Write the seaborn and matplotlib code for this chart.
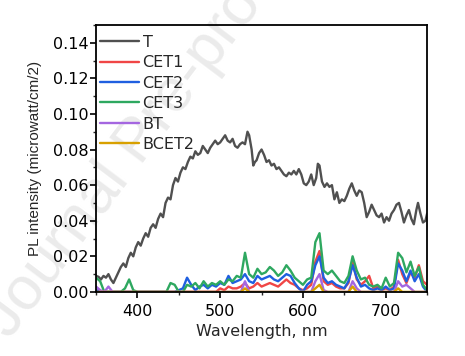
import numpy as np
import pandas as pd
import matplotlib
matplotlib.use('Agg')
import matplotlib.pyplot as plt
from matplotlib.ticker import MultipleLocator, FormatStrFormatter
import seaborn as sns

# T 曲线
t_wl = [350, 353, 356, 359, 362, 365, 368, 371, 374, 377, 380, 383, 386, 389, 392, 395, 398,
        401, 404, 407, 410, 413, 416, 419, 422, 425, 428, 431, 434, 437, 440, 443, 446, 449,
        452, 455, 458, 461, 464, 467, 470, 473, 476, 479, 482, 485, 488, 491, 494, 497, 500,
        503, 506, 509, 512, 515, 518, 521, 524, 527, 530, 533, 535, 538, 540, 542, 544, 547,
        550, 553, 556, 559, 562, 565, 568, 571, 574, 577, 580, 583, 586, 589, 592, 595, 598,
        601, 604, 607, 610, 613, 616, 618, 620, 623, 626, 629, 632, 635, 638, 641, 644, 647,
        650, 653, 656, 659, 662, 665, 668, 671, 674, 677, 680, 683, 686, 689, 692, 695, 698,
        701, 704, 707, 710, 713, 716, 719, 722, 725, 728, 731, 734, 737, 739, 742, 745, 748, 750]
t_val = [0.009, 0.0085, 0.007, 0.009, 0.008, 0.010, 0.007, 0.005, 0.008, 0.011, 0.014, 0.016,
         0.014, 0.019, 0.022, 0.020, 0.025, 0.028, 0.026, 0.030, 0.033, 0.031, 0.036, 0.038,
         0.036, 0.041, 0.044, 0.042, 0.050, 0.053, 0.052, 0.060, 0.064, 0.062, 0.067, 0.070,
         0.069, 0.073, 0.076, 0.075, 0.079, 0.077, 0.078, 0.082, 0.080, 0.078, 0.081, 0.083,
         0.085, 0.083, 0.084, 0.086, 0.088, 0.085, 0.084, 0.086, 0.082, 0.081, 0.083, 0.084,
         0.083, 0.090, 0.088, 0.080, 0.071, 0.073, 0.074, 0.078, 0.080, 0.077, 0.073, 0.074,
         0.071, 0.072, 0.069, 0.070, 0.068, 0.066, 0.065, 0.067, 0.066, 0.068, 0.066, 0.069,
         0.066, 0.061, 0.060, 0.062, 0.066, 0.060, 0.064, 0.072, 0.071, 0.062, 0.059, 0.061,
         0.059, 0.060, 0.052, 0.056, 0.050, 0.052, 0.051, 0.054, 0.058, 0.061, 0.057, 0.054,
         0.057, 0.056, 0.050, 0.042, 0.045, 0.049, 0.046, 0.043, 0.042, 0.044, 0.039, 0.042,
         0.040, 0.044, 0.046, 0.049, 0.050, 0.045, 0.039, 0.043, 0.046, 0.041, 0.038, 0.046,
         0.050, 0.044, 0.039, 0.040, 0.044]

# 其余样品，5 nm 间隔，每行 50 nm
wl = list(range(350, 751, 5))
cet1 = [0.001, 0, 0, 0, 0, 0, 0, 0, 0, 0,
        0, 0, 0, 0, 0, 0, 0, 0, 0, 0,
        0, 0, 0, 0, 0, 0, 0, 0, 0, 0,
        0.002, 0.001, 0.003, 0.002, 0.002, 0.003, 0.005, 0.002, 0.003, 0.005,
        0.003, 0.004, 0.005, 0.004, 0.003, 0.005, 0.007, 0.005, 0.004, 0.002,
        0.001, 0.002, 0.004, 0.017, 0.023, 0.006, 0.004, 0.005, 0.003, 0.002,
        0.002, 0.005, 0.017, 0.007, 0.004, 0.006, 0.009, 0.002, 0.003, 0.001,
        0.002, 0.001, 0.003, 0.018, 0.010, 0.005, 0.011, 0.008, 0.015, 0.006,
        0.004]
cet2 = [0.001, 0, 0, 0, 0, 0, 0, 0, 0, 0,
        0, 0, 0, 0, 0, 0, 0, 0, 0, 0,
        0.001, 0.002, 0.008, 0.004, 0.001, 0.003, 0.004, 0.002, 0.004, 0.003,
        0.005, 0.004, 0.009, 0.005, 0.006, 0.007, 0.010, 0.006, 0.005, 0.009,
        0.007, 0.008, 0.009, 0.007, 0.006, 0.008, 0.010, 0.009, 0.005, 0.002,
        0.000, 0.004, 0.006, 0.015, 0.020, 0.008, 0.005, 0.006, 0.004, 0.003,
        0.002, 0.006, 0.015, 0.008, 0.003, 0.004, 0.002, 0.001, 0.002, 0.001,
        0.003, 0.001, 0.002, 0.016, 0.012, 0.006, 0.012, 0.006, 0.010, 0.003,
        0.000]
cet3 = [0.008, 0.006, 0, 0, 0, 0, 0, 0.002, 0.007, 0.001,
        0, 0, 0, 0, 0, 0, 0, 0, 0.005, 0.004,
        0, 0, 0.004, 0.003, 0.005, 0.002, 0.006, 0.003, 0.005, 0.004,
        0.006, 0.004, 0.007, 0.006, 0.009, 0.008, 0.022, 0.010, 0.008, 0.013,
        0.010, 0.011, 0.014, 0.012, 0.009, 0.011, 0.015, 0.012, 0.008, 0.006,
        0.004, 0.007, 0.008, 0.028, 0.033, 0.012, 0.010, 0.012, 0.009, 0.006,
        0.005, 0.009, 0.020, 0.012, 0.007, 0.008, 0.004, 0.003, 0.004, 0.002,
        0.008, 0.003, 0.005, 0.022, 0.019, 0.011, 0.017, 0.009, 0.014, 0.004,
        0.001]
bt = [0.003, 0.001, 0, 0.003, 0, 0, 0, 0, 0, 0,
      0, 0, 0, 0, 0, 0, 0, 0, 0, 0,
      0, 0, 0, 0, 0, 0, 0, 0, 0, 0,
      0, 0, 0, 0, 0, 0, 0.006, 0, 0, 0,
      0, 0, 0, 0, 0, 0, 0, 0, 0, 0,
      0, 0, 0, 0.006, 0.010, 0.001, 0, 0, 0, 0,
      0, 0, 0.006, 0.002, 0, 0, 0, 0, 0, 0,
      0, 0, 0, 0.006, 0.003, 0.004, 0.002, 0, 0, 0,
      0]
bcet2 = [0, 0, 0, 0, 0, 0, 0, 0, 0, 0,
         0, 0, 0, 0, 0, 0, 0, 0, 0, 0,
         0, 0, 0, 0, 0, 0, 0, 0, 0, 0,
         0, 0, 0, 0, 0, 0, 0.002, 0, 0, 0,
         0, 0, 0, 0, 0, 0, 0, 0, 0, 0,
         0, 0, 0, 0.002, 0.004, 0, 0, 0, 0, 0,
         0, 0, 0.003, 0, 0, 0, 0, 0, 0, 0,
         0, 0, 0, 0.002, 0, 0, 0, 0, 0, 0,
         0]

names = ['T', 'CET1', 'CET2', 'CET3', 'BT', 'BCET2']
colors = ['#505050', '#F04646', '#1F5FE0', '#2EA860', '#A466E0', '#D8A000']

frames = [pd.DataFrame({'wl': t_wl, 'pl': t_val, 'sample': 'T'})]
for n, v in zip(names[1:], [cet1, cet2, cet3, bt, bcet2]):
    frames.append(pd.DataFrame({'wl': wl, 'pl': v, 'sample': n}))
df = pd.concat(frames, ignore_index=True)

sns.set_style('ticks')
plt.rcParams['font.family'] = ['DejaVu Sans']

fig = plt.figure(figsize=(4.65, 3.56), dpi=100)
fig.patch.set_facecolor('white')
# 水印（放在坐标轴后面）
wm = fig.text(0.30, 0.60, 'Journal Pre-proof', rotation=53, fontsize=44, color='#ebebeb',
              family='Liberation Sans', ha='center', va='center')
wm.set_zorder(-5)
ax = fig.add_axes([0.2065, 0.18, 0.712, 0.75])
ax.set_facecolor('none')

sns.lineplot(data=df, x='wl', y='pl', hue='sample', hue_order=names,
             palette=colors, estimator=None, sort=False, linewidth=1.7, ax=ax)

ax.set_xlim(350, 750)
ax.set_ylim(0, 0.15)
ax.xaxis.set_major_locator(MultipleLocator(100))
ax.xaxis.set_minor_locator(MultipleLocator(50))
ax.yaxis.set_major_locator(MultipleLocator(0.02))
ax.yaxis.set_minor_locator(MultipleLocator(0.01))
ax.yaxis.set_major_formatter(FormatStrFormatter('%.2f'))
ax.tick_params(which='major', direction='out', length=4.5, width=1.2, labelsize=11.5,
               colors='black', top=False, right=False)
ax.tick_params(axis='y', which='major', pad=1)
ax.tick_params(axis='x', which='major', pad=4)
ax.tick_params(which='minor', direction='out', length=2.5, width=1.0,
               top=False, right=False)
for s in ax.spines.values():
    s.set_linewidth(1.3)
    s.set_color('black')

ax.set_xlabel('Wavelength, nm', fontsize=11.5, labelpad=4)
ax.set_ylabel('PL intensity (microwatt/cm/2)', fontsize=11, family='Liberation Sans',
              labelpad=8)

leg = ax.legend(loc='upper left', bbox_to_anchor=(0.003, 0.975), frameon=False,
                fontsize=11.5, handlelength=2.4, handletextpad=0.25, labelspacing=0.34,
                borderaxespad=0, borderpad=0.2)
for line in leg.get_lines():
    line.set_linewidth(1.7)

fig.savefig('out.png', dpi=100)
